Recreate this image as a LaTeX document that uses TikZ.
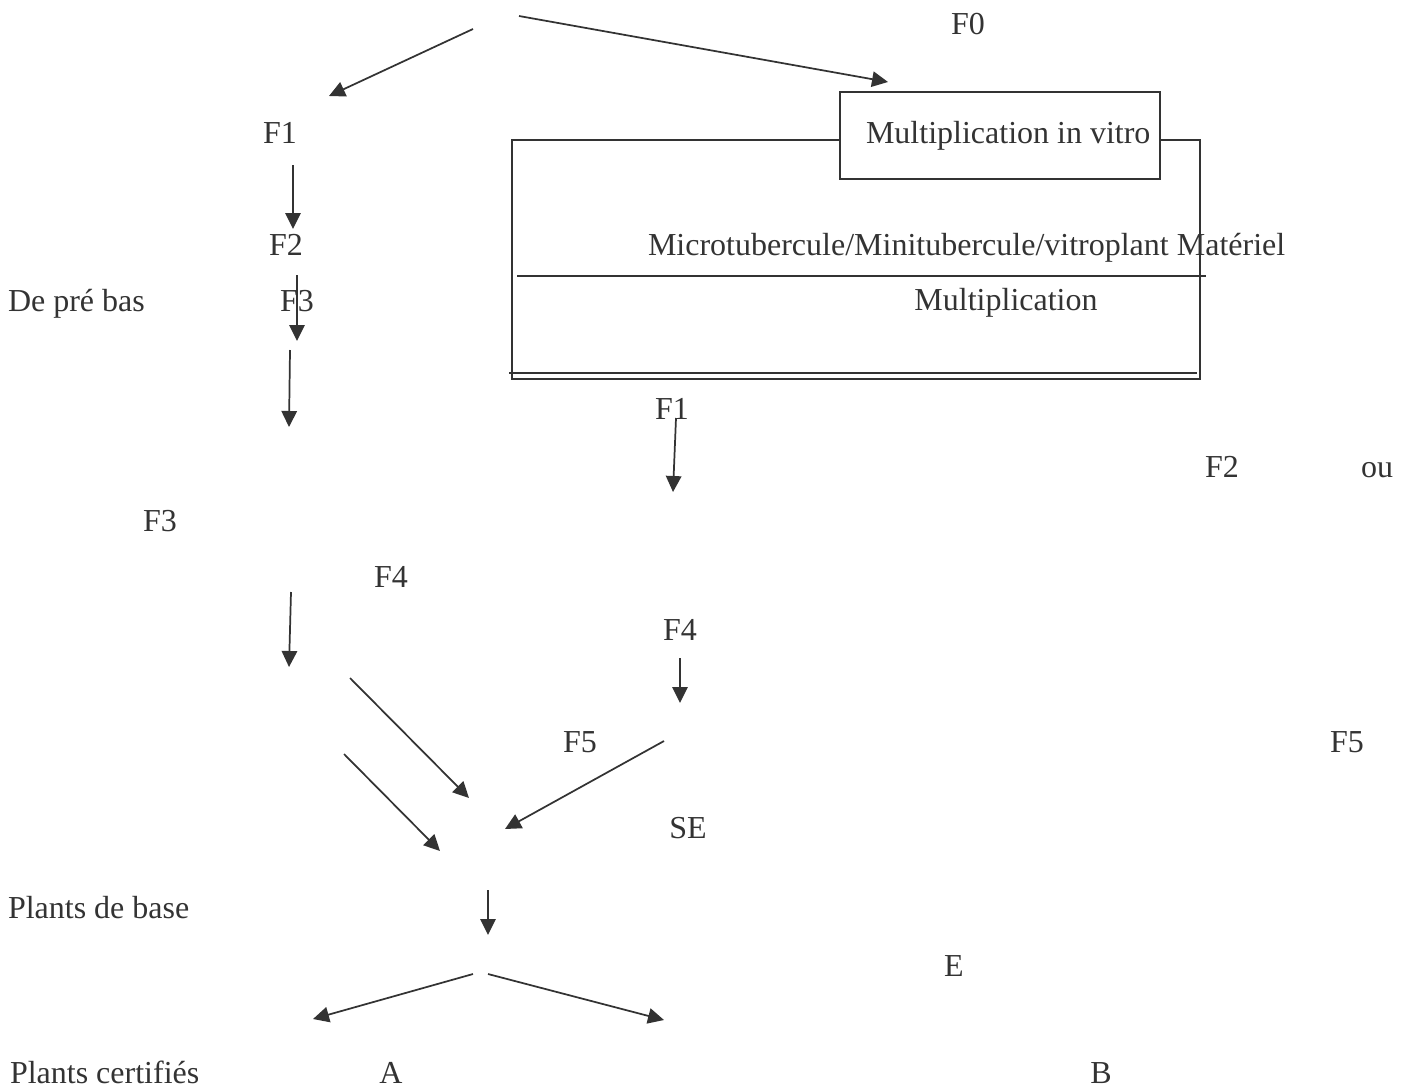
\documentclass[tikz,border=0pt]{standalone}
\usepackage{fontspec}
\setmainfont{Liberation Serif}
\usetikzlibrary{arrows.meta}
\definecolor{ink}{HTML}{333333}
\begin{document}
\begin{tikzpicture}[x=0.375pt,y=-0.375pt,
  every node/.style={inner sep=0pt,outer sep=0pt,text=ink,font=\fontsize{12}{14}\selectfont},
  lbl/.style={anchor=base},
  lblw/.style={anchor=base west},
  arr/.style={draw=ink,line width=0.65pt,-{Triangle[length=6pt,width=5.8pt]}},
  boxline/.style={draw=ink,line width=0.6pt}]
\useasboundingbox (0,0) rectangle (1412,1086);
% labels
\node[lbl] (f0) at (968,34) {F0};
\node[lbl] (f1a) at (280,143) {F1};
\node[lbl] (f2a) at (286,255) {F2};
\node[lblw] (depre) at (8,311) {De pré bas};
\node[lbl] (f3a) at (297,311) {F3};
\node[lbl] (f1b) at (672,419) {F1};
\node[lbl] (f2b) at (1222,477) {F2};
\node[lbl] (ou) at (1377,477) {ou};
\node[lbl] (f3b) at (160,531) {F3};
\node[lbl] (f4a) at (391,587) {F4};
\node[lbl] (f4b) at (680,640) {F4};
\node[lbl] (f5a) at (580,752) {F5};
\node[lbl] (f5b) at (1347,752) {F5};
\node[lbl] (se) at (688,838) {SE};
\node[lblw] (base) at (8,918) {Plants de base};
\node[lbl] (e) at (954,976) {E};
\node[lblw] (cert) at (10,1083) {Plants certifiés};
\node[lbl] (a) at (391,1083) {A};
\node[lbl] (b) at (1101,1083) {B};
% box
\draw[boxline] (512,140) rectangle (1200,379);
\draw[boxline] (517,276) -- (1206,276);
\draw[boxline] (509,373) -- (1197,373);
\draw[boxline,fill=white] (840,92) rectangle (1160,179);
\node[lblw] (vitro) at (866,143) {Multiplication in vitro};
\node[lblw] (micro) at (648,255) {Microtubercule/Minitubercule/vitroplant Matériel};
\node[lbl] (mult) at (1006,310) {Multiplication};
% arrow end points
\coordinate (t1s) at (473,29); \coordinate (t1e) at (329,96);
\coordinate (t2s) at (519,16); \coordinate (t2e) at (888,82);
\coordinate (a1s) at (293,165); \coordinate (a1e) at (293,229);
\coordinate (a2s) at (297,275); \coordinate (a2e) at (297,341);
\coordinate (a3s) at (290,350); \coordinate (a3e) at (289,427);
\coordinate (a4s) at (676,418); \coordinate (a4e) at (673,492);
\coordinate (a5s) at (291,592); \coordinate (a5e) at (289,667);
\coordinate (a6s) at (350,678); \coordinate (a6e) at (469,798);
\coordinate (a7s) at (344,754); \coordinate (a7e) at (440,851);
\coordinate (a8s) at (680,658); \coordinate (a8e) at (680,703);
\coordinate (a9s) at (664,741); \coordinate (a9e) at (505,829);
\coordinate (a10s) at (488,890); \coordinate (a10e) at (488,935);
\coordinate (a11s) at (473,974); \coordinate (a11e) at (313,1019);
\coordinate (a12s) at (488,974); \coordinate (a12e) at (664,1020);
\foreach \s/\e in {t1s/t1e,t2s/t2e,a1s/a1e,a2s/a2e,a3s/a3e,a4s/a4e,a5s/a5e,a6s/a6e,a7s/a7e,a8s/a8e,a9s/a9e,a10s/a10e,a11s/a11e,a12s/a12e}
  \draw[arr] (\s) -- (\e);
\end{tikzpicture}
\end{document}
